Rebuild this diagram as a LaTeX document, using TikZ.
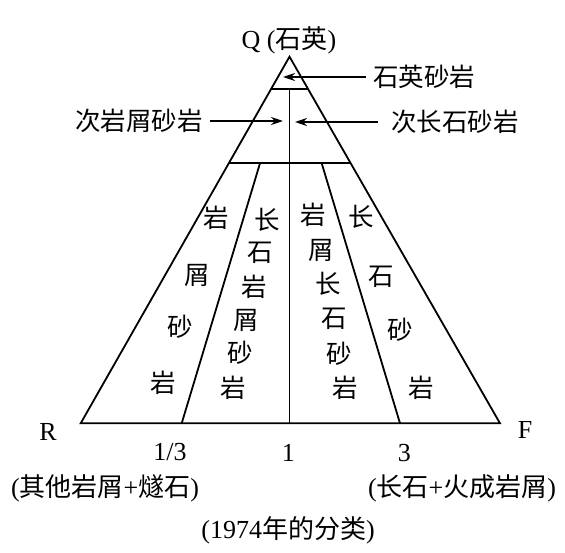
\documentclass[tikz,border=0pt]{standalone}
\usepackage{fontspec}
\setmainfont{Liberation Serif}
\newfontfamily\cjk{Noto Sans CJK SC}
\usetikzlibrary{arrows.meta,calc}
\begin{document}
\begin{tikzpicture}[x=1pt,y=-1pt,
  edge/.style={line width=1.8pt},
  arr/.style={line width=1.8pt,-{Stealth[length=12pt,width=8pt]}},
  lab/.style={inner sep=0pt,font=\fontsize{26}{28}\selectfont},
  zh/.style={inner sep=0pt,font=\fontsize{25.5}{28}\selectfont\cjk}]
\useasboundingbox (0,0) rectangle (565,553);
% triangle
\coordinate (A) at (289.5,56.7);
\coordinate (R0) at (80.7,423.3);
\coordinate (F0) at (500,423.3);
\coordinate (s1) at ($(A)!0.0881!(R0)$);
\coordinate (s2) at ($(A)!0.0881!(F0)$);
\coordinate (b1) at ($(A)!0.2908!(R0)$);
\coordinate (b2) at ($(A)!0.2908!(F0)$);
\coordinate (v1) at (289.5,89);
\coordinate (v2) at (289.5,423.3);
\coordinate (l1) at (260,163.3);
\coordinate (l2) at (181.7,423.3);
\coordinate (r1) at (321.7,163.3);
\coordinate (r2) at (400,423.3);
\draw[edge] (A) -- (R0) -- (F0) -- cycle;
\draw[edge] (s1) -- (s2);
\draw[edge] (b1) -- (b2);
\draw[edge] (v1) -- (v2);
\draw[edge] (l1) -- (l2);
\draw[edge] (r1) -- (r2);
% top label
\node[lab] (q) at (289,40) {Q ({\cjk 石英})};
% arrows with labels
\node[zh] (t1) at (424,77) {石英砂岩};
\coordinate (t1e) at (283,77);
\draw[arr] ([xshift=-7pt]t1.west) -- (t1e);
\node[zh] (t2) at (139,121) {次岩屑砂岩};
\coordinate (t2e) at (283,121);
\draw[arr] ([xshift=7pt]t2.east) -- (t2e);
\node[zh] (t3) at (455,122) {次长石砂岩};
\coordinate (t3e) at (295,122);
\draw[arr] ([xshift=-13pt]t3.west) -- (t3e);
% columns of characters
\foreach \ch/\x/\y [count=\i] in {岩/216.7/218,屑/197/275,砂/180/327,岩/163.3/383.3}
  \node[zh] (ca\i) at (\x,\y) {\ch};
\foreach \ch/\x/\y [count=\i] in {长/267.3/220,石/260.7/253,岩/254/287,屑/246.7/320,砂/240/353,岩/233.3/388}
  \node[zh] (cb\i) at (\x,\y) {\ch};
\foreach \ch/\x/\y [count=\i] in {岩/313.3/215,屑/321.7/250,长/328.3/283.3,石/334/318.3,砂/339.3/353.3,岩/345/388.3}
  \node[zh] (cc\i) at (\x,\y) {\ch};
\foreach \ch/\x/\y [count=\i] in {长/361.7/216.7,石/381.7/276.7,砂/400/330,岩/421.7/388.3}
  \node[zh] (cd\i) at (\x,\y) {\ch};
% bottom labels
\node[lab] (R) at (48,432) {R};
\node[lab] (F) at (525,430) {F};
\node[lab] (n1) at (170,452) {1/3};
\node[lab] (n2) at (288.3,453) {1};
\node[lab] (n3) at (404.3,453) {3};
\node[lab] (p1) at (105,488) {({\cjk 其他岩屑}+{\cjk 燧石})};
\node[lab] (p2) at (462,488) {({\cjk 长石}+{\cjk 火成岩屑})};
\node[lab] (p3) at (288,530) {(1974{\cjk 年的分类})};
\end{tikzpicture}
\end{document}
